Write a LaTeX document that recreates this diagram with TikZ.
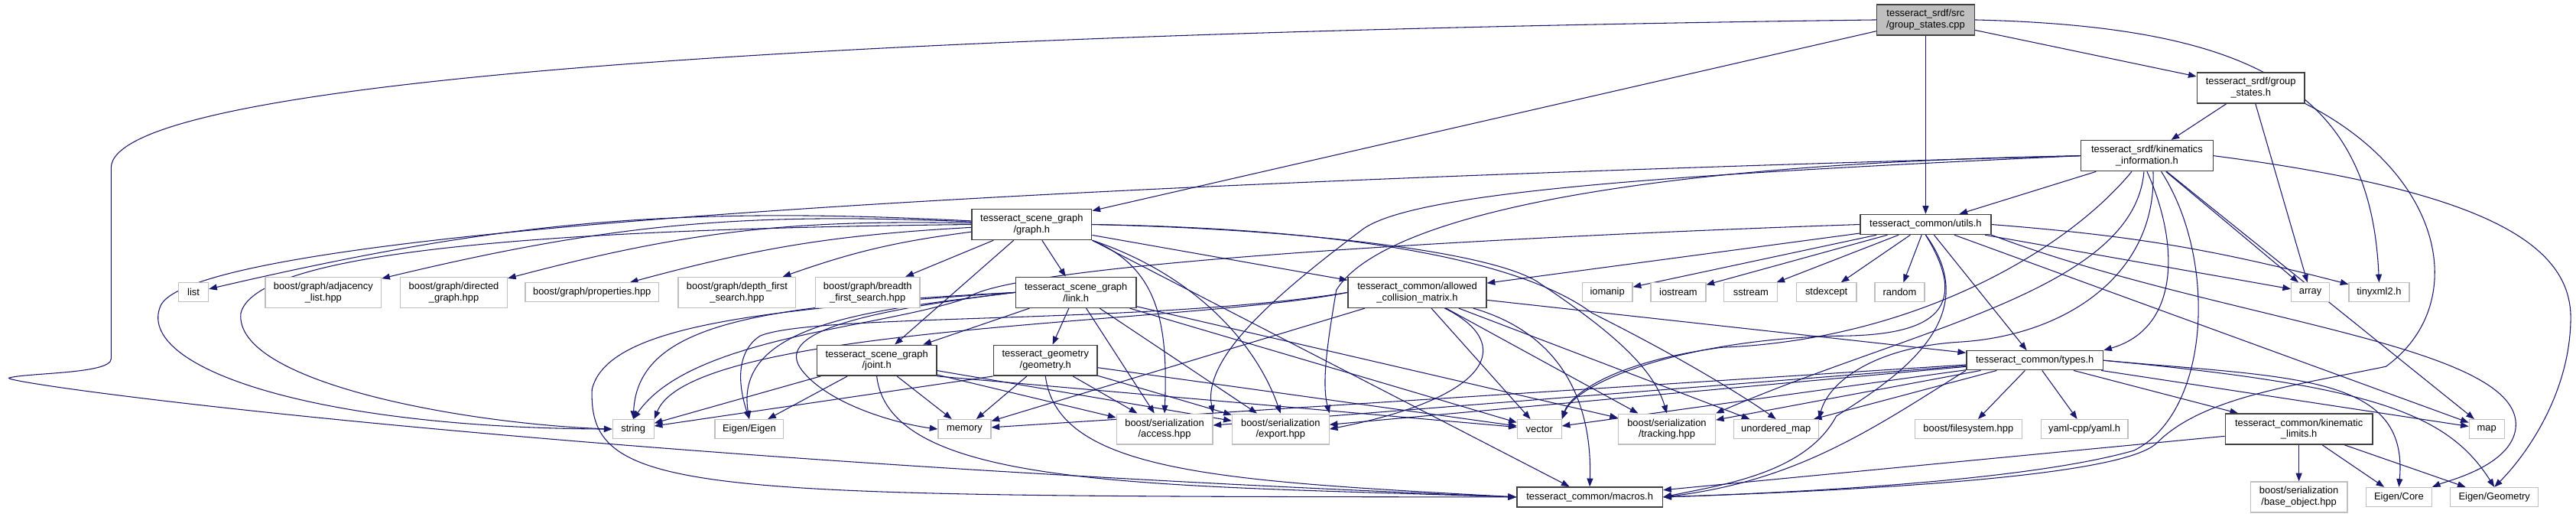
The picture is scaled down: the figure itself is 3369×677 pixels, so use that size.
\documentclass[tikz,border=0pt]{standalone}
\usepackage{fontspec}
\setmainfont{Liberation Sans}
\usetikzlibrary{arrows.meta,backgrounds}
\definecolor{mblue}{HTML}{191970}
\definecolor{lgray}{HTML}{BFBFBF}
\definecolor{dgray}{HTML}{404040}
\begin{document}
\begin{tikzpicture}[x=0.75pt,y=-0.75pt,
  wh/.style 2 args={minimum width=#1*0.75pt, minimum height=#2*0.75pt},
  box/.style={draw=dgray, line width=1.1pt, fill=white, inner sep=0pt, align=center, font=\fontsize{9.7}{11}\selectfont},
  ext/.style={draw=lgray, line width=0.9pt, fill=white, inner sep=0pt, align=center, font=\fontsize{9.7}{11}\selectfont},
  dep/.style={draw=mblue, line width=0.8pt, -{Triangle[length=8pt,width=6pt]}}]
\begin{scope}[on background layer]
\path[use as bounding box, fill=white] (0,0) rectangle (3369,677);
\end{scope}
% ---------------- nodes ----------------
\node[box, fill=lgray, wh={128}{40}] (cpp) at (2517,26) {tesseract\_srdf/src\\/group\_states.cpp};
\node[box, wh={141}{40}] (gsh) at (2943,115) {tesseract\_srdf/group\\\_states.h};
\node[box, wh={173}{40}] (kin) at (2807,204) {tesseract\_srdf/kinematics\\\_information.h};
\node[box, wh={157}{40}] (graph) at (1346,294) {tesseract\_scene\_graph\\/graph.h};
\node[box, wh={171}{26}] (utils) at (2517,294) {tesseract\_common/utils.h};
\node[ext, wh={39}{25}] (list) at (248,383) {list};
\node[ext, wh={152}{40}] (adj) at (418,383) {boost/graph/adjacency\\\_list.hpp};
\node[ext, wh={140}{40}] (dir) at (589,383) {boost/graph/directed\\\_graph.hpp};
\node[ext, wh={175}{25}] (prop) at (770,383) {boost/graph/properties.hpp};
\node[ext, wh={154}{40}] (dfs) at (960,383) {boost/graph/depth\_first\\\_search.hpp};
\node[ext, wh={137}{40}] (bfs) at (1131,383) {boost/graph/breadth\\\_first\_search.hpp};
\node[box, wh={158}{40}] (link) at (1404,383) {tesseract\_scene\_graph\\/link.h};
\node[box, wh={181}{40}] (acm) at (1851,383) {tesseract\_common/allowed\\\_collision\_matrix.h};
\node[ext, wh={66}{25}] (iomanip) at (2100,383) {iomanip};
\node[ext, wh={72}{25}] (iostream) at (2193,383) {iostream};
\node[ext, wh={70}{25}] (sstream) at (2288,383) {sstream};
\node[ext, wh={79}{25}] (stdexcept) at (2387,383) {stdexcept};
\node[ext, wh={65}{25}] (random) at (2483,383) {random};
\node[ext, wh={50}{25}] (array) at (3021,383) {array};
\node[ext, wh={79}{25}] (tinyxml) at (3111,383) {tinyxml2.h};
\node[box, wh={157}{40}] (joint) at (1143,472) {tesseract\_scene\_graph\\/joint.h};
\node[box, wh={136}{40}] (geom) at (1364,472) {tesseract\_geometry\\/geometry.h};
\node[box, wh={179}{25}] (types) at (2660,472) {tesseract\_common/types.h};
\node[ext, wh={54}{25}] (string) at (824,562) {string};
\node[ext, wh={90}{25}] (eigen) at (976,562) {Eigen/Eigen};
\node[ext, wh={69}{25}] (memory) at (1258,562) {memory};
\node[ext, wh={126}{40}] (access) at (1520,562) {boost/serialization\\/access.hpp};
\node[ext, wh={127}{40}] (export) at (1672,562) {boost/serialization\\/export.hpp};
\node[ext, wh={58}{25}] (vector) at (2011,562) {vector};
\node[ext, wh={127}{40}] (tracking) at (2178,562) {boost/serialization\\/tracking.hpp};
\node[ext, wh={111}{25}] (umap) at (2321,562) {unordered\_map};
\node[ext, wh={140}{25}] (fs) at (2573,562) {boost/filesystem.hpp};
\node[ext, wh={114}{25}] (yaml) at (2725,562) {yaml-cpp/yaml.h};
\node[box, wh={193}{40}] (klim) at (3006,562) {tesseract\_common/kinematic\\\_limits.h};
\node[ext, wh={46}{25}] (map) at (3252,562) {map};
\node[box, wh={191}{26}] (macros) at (2077,651) {tesseract\_common/macros.h};
\node[ext, wh={127}{40}] (base) at (3006,651) {boost/serialization\\/base\_object.hpp};
\node[ext, wh={86}{25}] (core) at (3137,651) {Eigen/Core};
\node[ext, wh={115}{25}] (geomE) at (3262,651) {Eigen/Geometry};
% ---------------- edges ----------------
\begin{scope}[on background layer]
% group_states.cpp
\draw[dep] (cpp) -- (gsh);
\draw[dep] (cpp) -- (utils);
\draw[dep] (cpp) -- (graph);
\draw[dep] (cpp.east) .. controls (2950,35) and (3100,120) .. (tinyxml.north);
\draw[dep] (cpp.west) .. controls (1000,45) and (140,110) .. (140,220) -- (140,470)
  .. controls (140,490) and (30,488) .. (6,495) .. controls (-5,502) and (700,600) .. (macros.west);
% group_states.h
\draw[dep] (gsh) -- (kin);
\draw[dep] (gsh) -- (array);
\draw[dep] (gsh.south east) .. controls (3200,230) and (3230,400) .. (3120,480)
  .. controls (3000,505) and (2880,520) .. (2820,580) .. controls (2780,620) and (2500,640) .. (macros.east);
% kinematics_information.h
\draw[dep] (kin) -- (utils);
\draw[dep] (kin.south) .. controls (2850,320) and (2850,430) .. (types.north east);
\draw[dep] (kin) -- (array);
\draw[dep] (kin) -- (map);
\draw[dep] (kin.east) .. controls (3250,250) and (3365,320) .. (3362,420) .. controls (3360,520) and (3300,600) .. (geomE.north);
\draw[dep] (kin.west) .. controls (1600,235) and (260,290) .. (205,400) .. controls (170,480) and (400,560) .. (string.west);
\draw[dep] (kin.west) .. controls (2200,228) and (1850,250) .. (1780,300) .. controls (1660,390) and (1570,470) .. (access.north east);
\draw[dep] (kin.west) .. controls (2100,215) and (1800,290) .. (1745,380) .. controls (1735,440) and (1725,500) .. (export.north east);
\draw[dep] ([xshift=-15pt]kin.south) .. controls (2700,330) and (2500,445) .. (2250,455) .. controls (2100,475) and (2050,520) .. (vector.north east);
\draw[dep] ([xshift=-3pt]kin.south) .. controls (2790,380) and (2500,430) .. (tracking.north east);
\draw[dep] ([xshift=6pt]kin.south) .. controls (2820,360) and (2700,440) .. (2560,448) .. controls (2450,455) and (2390,500) .. (umap.north east);
\draw[dep] ([xshift=14pt]kin.south) .. controls (2900,340) and (2890,540) .. (2790,590) .. controls (2650,630) and (2350,645) .. (macros.east);
% graph.h
\draw[dep] (graph) to[bend right=8] (list);
\draw[dep] (graph) to[bend right=8] (adj);
\draw[dep] (graph) to[bend right=8] (dir);
\draw[dep] (graph) to[bend right=6] (prop);
\draw[dep] (graph) to[bend right=6] (dfs);
\draw[dep] (graph) -- (bfs);
\draw[dep] (graph) -- (link);
\draw[dep] (graph) -- (joint);
\draw[dep] (graph) -- (acm);
\draw[dep] (graph.south east) .. controls (1510,350) and (1525,420) .. (access.north);
\draw[dep] (graph.south east) .. controls (1560,360) and (1640,450) .. (export.north);
\draw[dep] (graph.south east) -- (macros);
\draw[dep] (graph.west) .. controls (700,300) and (330,330) .. (310,410) .. controls (300,500) and (600,555) .. (string.west);
\draw[dep] (graph.east) .. controls (1800,300) and (2000,350) .. (2080,410) .. controls (2200,470) and (2280,520) .. (umap.north);
\draw[dep] (graph.east) .. controls (1700,300) and (1950,330) .. (2010,370) .. controls (2100,430) and (2160,480) .. (tracking.north);
% link.h
\draw[dep] (link) -- (joint);
\draw[dep] (link) -- (geom);
\draw[dep] (link) -- (access);
\draw[dep] (link) -- (export);
\draw[dep] (link) -- (vector);
\draw[dep] (link) -- (tracking);
\draw[dep] (link.west) .. controls (1150,405) and (955,420) .. (eigen.north);
\draw[dep] (link.west) .. controls (1000,400) and (830,420) .. (string.north);
\draw[dep] (link.west) .. controls (1100,410) and (1010,440) .. (1045,485) .. controls (1080,530) and (1170,555) .. (memory.west);
\draw[dep] (link.west) .. controls (1000,405) and (790,425) .. (770,510) .. controls (765,650) and (900,650) .. (macros.west);
% joint.h
\draw[dep] (joint) -- (string);
\draw[dep] (joint) -- (eigen);
\draw[dep] (joint) -- (memory);
\draw[dep] (joint) -- (access);
\draw[dep] (joint) -- (export);
\draw[dep] (joint.south east) -- (vector);
\draw[dep] (joint.south) .. controls (1160,640) and (1500,635) .. (macros.west);
% geometry.h
\draw[dep] (geom.south west) -- (string);
\draw[dep] (geom) -- (memory);
\draw[dep] (geom) -- (access);
\draw[dep] (geom) -- (export);
\draw[dep] (geom) -- (vector);
\draw[dep] (geom.south) .. controls (1380,620) and (1600,630) .. (macros.west);
% allowed_collision_matrix.h
\draw[dep] (acm.west) .. controls (1550,425) and (900,425) .. (string.north east);
\draw[dep] (acm.west) .. controls (1500,425) and (1060,410) .. (990,440) .. controls (960,460) and (960,500) .. (eigen.north);
\draw[dep] (acm) -- (memory);
\draw[dep] ([xshift=27pt]acm.south) .. controls (1980,450) and (1950,520) .. (export.east);
\draw[dep] (acm) -- (vector);
\draw[dep] ([xshift=55pt]acm.south) .. controls (2050,440) and (2080,540) .. (macros.north);
\draw[dep] (acm) -- (types);
\draw[dep] (acm) -- (umap);
\draw[dep] (acm) -- (tracking);
% utils.h
\draw[dep] (utils) -- (acm);
\draw[dep] (utils) -- (iomanip);
\draw[dep] (utils) -- (iostream);
\draw[dep] (utils) -- (sstream);
\draw[dep] (utils) -- (stdexcept);
\draw[dep] (utils) -- (random);
\draw[dep] (utils) -- (types);
\draw[dep] (utils) -- (array);
\draw[dep] (utils.east) to[bend left=5] (tinyxml);
\draw[dep] (utils) -- (map);
\draw[dep] (utils.south east) .. controls (2900,420) and (3300,450) .. (3290,560) .. controls (3285,610) and (3200,630) .. (core.north east);
\draw[dep] (utils.west) .. controls (2100,305) and (1330,340) .. (1262,390) .. controls (1150,430) and (900,440) .. (string.north);
\draw[dep] (utils.south) .. controls (2580,410) and (2520,440) .. (2400,440) .. controls (2200,445) and (2060,500) .. (vector.north east);
\draw[dep] (utils.south) .. controls (2600,420) and (2470,500) .. (2400,545) .. controls (2360,620) and (2250,635) .. (macros.east);
% types.h
\draw[dep] (types) -- (vector);
\draw[dep] (types) -- (memory);
\draw[dep] (types) -- (access);
\draw[dep] (types) -- (export);
\draw[dep] (types) -- (tracking);
\draw[dep] (types) -- (umap);
\draw[dep] (types) -- (fs);
\draw[dep] (types) -- (yaml);
\draw[dep] (types) -- (klim);
\draw[dep] (types) -- (map);
\draw[dep] (types.east) .. controls (3000,495) and (3150,490) .. (core.north);
\draw[dep] (types.east) .. controls (3100,505) and (3200,540) .. (geomE.north);
\draw[dep] (types.south west) .. controls (2450,560) and (2350,630) .. (macros.east);
% kinematic_limits.h
\draw[dep] (klim) -- (base);
\draw[dep] (klim) -- (core);
\draw[dep] (klim) -- (geomE);
\draw[dep] (klim) -- (macros);
\end{scope}
\end{tikzpicture}
\end{document}
